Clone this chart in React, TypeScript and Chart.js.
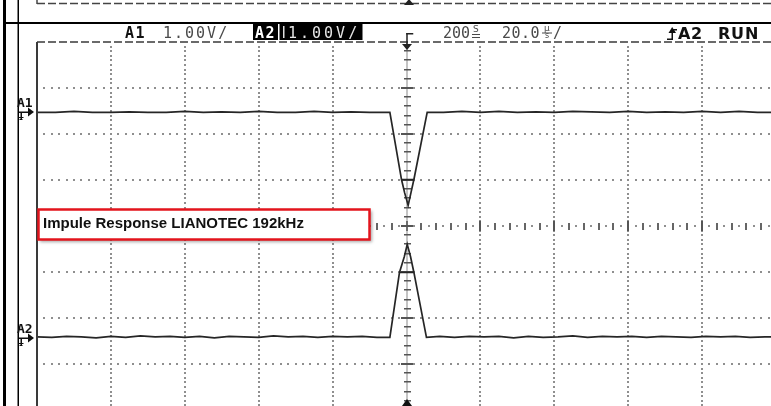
import { useEffect, useRef } from "react";
import { Chart, registerables } from "chart.js";

Chart.register(...registerables);

// ---- scope settings (20 µs/div, 1 V/div) ----
const X_MIN = -100; // µs
const X_MAX = 100; // µs
const X_DIVS = 10;
const Y_DIVS = 8;
const VOLTS_PER_DIV = 1;
const A1_GROUND_DIV = 2.47; // ground marker of A1, divisions above centre
const A2_GROUND_DIV = -2.42; // ground marker of A2

// ---- channel A1 (V vs µs) ----
const A1_TIME = [
  -100, -95, -90, -85, -80, -75, -70, -65, -60, -55, -50, -45, -40, -35, -30, -25, -20, -15, -10, -4.5,
  -1.35, -0.5, 0.45, 1.2, 2.0, -1.35, 2.0, 5.6,
  10, 15, 20, 25, 30, 35, 40, 45, 50, 55, 60, 65, 70, 75, 80, 85, 90, 95, 100,
];
const A1_VOLTS = [
  0, 0, 0.02, 0, 0, 0.01, 0, 0, 0.02, 0, 0.01, 0, 0.02, 0, 0, 0.02, 0, 0.01, 0, 0,
  -1.46, -1.75, -2.02, -1.75, -1.46, -1.46, -1.46, 0,
  0, 0.02, 0, 0.02, 0, 0.01, 0, 0.02, 0.01, 0, 0.02, 0, 0.01, 0, 0.02, 0, 0.02, 0, 0,
];

// ---- channel A2 (V vs µs) ----
const A2_TIME = [
  -100, -96, -92, -88, -84, -80, -76, -72, -68, -64, -60, -56, -52, -48, -44, -40, -36, -32, -28, -24, -20, -16, -12, -8, -4.5,
  -1.9, -0.6, 0.2, 1.1, 2.0, -1.9, 2.0, 5.4,
  9, 13, 17, 21, 25, 29, 33, 37, 41, 45, 49, 53, 57, 61, 65, 69, 73, 77, 81, 85, 89, 93, 97, 100,
];
const A2_VOLTS = [
  0.01, 0, 0.02, 0.01, -0.01, 0.02, 0, 0.03, 0.01, 0.02, 0, 0.02, -0.01, 0.02, 0.01, 0, 0.03, 0.01, 0.02, 0, 0.02, 0.01, 0.02, 0, 0,
  1.41, 1.75, 2.02, 1.75, 1.41, 1.41, 1.41, 0,
  0.02, 0, 0.02, 0.01, 0.02, -0.01, 0.02, 0, 0.01, 0.03, 0, 0.02, 0.01, 0.02, 0, 0.02, 0.01, 0, 0.02, 0.01, 0.02, 0, 0.01, 0.01,
];

// ---- texts ----
const CH1_NAME = "A1";
const CH2_NAME = "A2";
const CH1_SCALE = "1.00V/";
const CH2_SCALE = "1.00V/";
const SAMPLE_TEXT = "200";
const TIME_TEXT = "20.0";
const TRIG_SRC = "A2";
const RUN_TEXT = "RUN";
const NOTE_TEXT = "Impule Response LIANOTEC 192kHz";

const GRID_DOT = "#8f8f8f";
const TRACE = "#262626";

function text(ctx: any, s: string, x: number, y: number, font: string, color: string, spacing = 0) {
  ctx.font = font;
  ctx.fillStyle = color;
  try {
    ctx.letterSpacing = spacing + "px";
  } catch (e) {}
  ctx.fillText(s, x, y);
  try {
    ctx.letterSpacing = "0px";
  } catch (e) {}
}

function groundMarker(ctx: any, y: number, label: string) {
  text(ctx, label, 17, y - 5, "bold 13px 'DejaVu Sans Mono'", "#111");
  ctx.fillStyle = "#111";
  ctx.fillRect(19, y - 0.5, 10, 1.5);
  ctx.fillRect(20.5, y, 1.5, 8);
  ctx.fillRect(18.5, y + 5, 5, 1);
  ctx.fillRect(19.5, y + 7, 3, 1);
  ctx.beginPath();
  ctx.moveTo(28, y - 4.5);
  ctx.lineTo(28, y + 4.5);
  ctx.lineTo(34, y);
  ctx.closePath();
  ctx.fill();
}

const scopePlugin = {
  id: "scopeDecor",
  beforeDatasetsDraw(chart: any) {
    const ctx = chart.ctx;
    const xs = chart.scales.x;
    const yg = chart.scales.yGrid;
    const area = chart.chartArea;
    const xDiv = (X_MAX - X_MIN) / X_DIVS;
    const yMin = -Y_DIVS / 2;
    ctx.save();
    // dotted vertical grid
    ctx.fillStyle = GRID_DOT;
    for (let i = 1; i < X_DIVS; i++) {
      if (i === X_DIVS / 2) continue;
      const px = Math.round(xs.getPixelForValue(X_MIN + i * xDiv));
      for (let k = 1; k < Y_DIVS * 10; k++) {
        const py = Math.round(yg.getPixelForValue(yMin + k / 10));
        ctx.fillRect(px - 1, py - 1, 2, 2);
      }
    }
    // dotted horizontal grid
    for (let j = 1; j < Y_DIVS; j++) {
      if (j === Y_DIVS / 2) continue;
      const py = Math.round(yg.getPixelForValue(yMin + j));
      for (let k = 1; k < X_DIVS * 10; k++) {
        const px = Math.round(xs.getPixelForValue(X_MIN + (k * xDiv) / 10));
        ctx.fillRect(px - 1, py - 1, 2, 2);
      }
    }
    // centre horizontal axis with ticks
    const cy = Math.round(yg.getPixelForValue(0));
    for (let k = 1; k < X_DIVS * 10; k++) {
      const px = Math.round(xs.getPixelForValue(X_MIN + (k * xDiv) / 10));
      if (k % 10 === 0) {
        ctx.fillStyle = "#555";
        ctx.fillRect(px - 1, cy - 5, 2, 10);
      } else if (k % 2 === 0) {
        ctx.fillStyle = "#666";
        ctx.fillRect(px - 1, cy - 3, 2, 7);
      } else {
        ctx.fillStyle = GRID_DOT;
        ctx.fillRect(px - 1, cy - 1, 2, 2);
      }
    }
    // centre vertical axis with ticks
    const cx = Math.round(xs.getPixelForValue(0));
    ctx.fillStyle = "#8a8a8a";
    ctx.fillRect(cx - 0.5, area.top, 1, area.bottom - area.top);
    for (let k = 1; k < Y_DIVS * 5; k++) {
      const py = Math.round(yg.getPixelForValue(yMin + k / 5));
      ctx.fillStyle = "#555";
      if (k % 5 === 0) ctx.fillRect(cx - 6, py - 1, 12, 2);
      else ctx.fillRect(cx - 3, py - 1, 7, 1.5);
    }
    ctx.restore();
  },
  afterDraw(chart: any) {
    const ctx = chart.ctx;
    const xs = chart.scales.x;
    const area = chart.chartArea;
    const cx = Math.round(xs.getPixelForValue(0));
    ctx.save();

    // outer frame of the document
    ctx.fillStyle = "#000";
    ctx.fillRect(3, 0, 3, 420);
    ctx.fillRect(17.5, 0, 1.5, 420);
    ctx.fillRect(3, 22, 790, 2);

    // remains of the previous capture at the very top
    ctx.strokeStyle = "#444";
    ctx.lineWidth = 1.5;
    ctx.setLineDash([8, 3]);
    ctx.beginPath();
    ctx.moveTo(area.left, 3.5);
    ctx.lineTo(800, 3.5);
    ctx.stroke();
    ctx.setLineDash([]);
    ctx.beginPath();
    ctx.moveTo(area.left, 0);
    ctx.lineTo(area.left, 4);
    ctx.stroke();
    ctx.fillStyle = "#222";
    ctx.beginPath();
    ctx.moveTo(cx - 3, 5);
    ctx.lineTo(cx + 7, 5);
    ctx.lineTo(cx + 2, -1);
    ctx.closePath();
    ctx.fill();

    // plot border: dashed top, solid left
    ctx.strokeStyle = "#3a3a3a";
    ctx.lineWidth = 1.6;
    ctx.setLineDash([8, 3]);
    ctx.beginPath();
    ctx.moveTo(area.left, area.top);
    ctx.lineTo(area.right, area.top);
    ctx.stroke();
    ctx.setLineDash([]);
    ctx.lineWidth = 2;
    ctx.beginPath();
    ctx.moveTo(area.left, area.top);
    ctx.lineTo(area.left, area.bottom);
    ctx.stroke();

    // header
    const by = 38;
    text(ctx, CH1_NAME, 125, by, "bold 15px 'DejaVu Sans Mono'", "#111", 1.5);
    text(ctx, CH1_SCALE, 163, by, "15px 'DejaVu Sans Mono'", "#4a4a4a", 2);
    ctx.fillStyle = "#000";
    ctx.fillRect(253, 23, 25, 17);
    ctx.fillRect(279.5, 23, 83, 17);
    text(ctx, CH2_NAME, 255, by, "bold 15px 'DejaVu Sans Mono'", "#fff", 1.5);
    ctx.fillStyle = "#ddd";
    ctx.fillRect(283, 26, 1.5, 12);
    text(ctx, CH2_SCALE, 288, by, "15px 'DejaVu Sans Mono'", "#e6e6e6", 3);

    // trigger position glyph
    ctx.fillStyle = "#222";
    ctx.fillRect(cx - 0.75, 33, 1.5, 11);
    ctx.fillRect(cx - 0.75, 33, 7, 1.5);
    ctx.beginPath();
    ctx.moveTo(cx - 5, 44);
    ctx.lineTo(cx + 5, 44);
    ctx.lineTo(cx, 50);
    ctx.closePath();
    ctx.fill();

    // timebase
    text(ctx, SAMPLE_TEXT, 443, by, "15px 'DejaVu Sans Mono'", "#4a4a4a", 0);
    text(ctx, "S", 473, 32, "9px 'DejaVu Sans'", "#4a4a4a", 0);
    ctx.fillStyle = "#4a4a4a";
    ctx.fillRect(472, 34, 8, 1);
    ctx.fillRect(472, 37, 8, 1);
    text(ctx, TIME_TEXT, 502, by, "15px 'DejaVu Sans Mono'", "#4a4a4a", 0.5);
    text(ctx, "µ", 544, 31, "9px 'DejaVu Sans'", "#4a4a4a", 0);
    text(ctx, "s", 545, 38, "8px 'DejaVu Sans'", "#4a4a4a", 0);
    ctx.fillRect(542, 32.5, 10, 1);
    text(ctx, "/", 553, by, "15px 'DejaVu Sans Mono'", "#4a4a4a", 0);

    // trigger source + run state
    ctx.fillStyle = "#111";
    ctx.fillRect(671.5, 29, 1.5, 11);
    ctx.fillRect(667, 38.5, 5, 1.5);
    ctx.fillRect(672, 29, 5, 1.5);
    ctx.beginPath();
    ctx.moveTo(668.5, 33);
    ctx.lineTo(676, 33);
    ctx.lineTo(672.2, 27);
    ctx.closePath();
    ctx.fill();
    text(ctx, TRIG_SRC, 678, by + 1, "bold 16px 'DejaVu Sans'", "#111", 0.5);
    text(ctx, RUN_TEXT, 718, by + 1, "bold 16px 'DejaVu Sans'", "#111", 0.8);

    // channel ground markers
    groundMarker(ctx, Math.round(chart.scales.yA1.getPixelForValue(0)), CH1_NAME);
    groundMarker(ctx, Math.round(chart.scales.yA2.getPixelForValue(0)) + 1, CH2_NAME);

    // bottom trigger marker
    ctx.fillStyle = "#111";
    ctx.beginPath();
    ctx.moveTo(cx - 5, 406);
    ctx.lineTo(cx + 5, 406);
    ctx.lineTo(cx, 399);
    ctx.closePath();
    ctx.fill();

    // annotation box
    ctx.save();
    ctx.shadowColor = "rgba(0,0,0,0.35)";
    ctx.shadowBlur = 3;
    ctx.shadowOffsetX = 2;
    ctx.shadowOffsetY = 2;
    ctx.fillStyle = "#fff";
    ctx.fillRect(38, 209, 332, 31);
    ctx.restore();
    ctx.strokeStyle = "#e3141d";
    ctx.lineWidth = 2.5;
    ctx.strokeRect(38.5, 209.5, 331, 30);
    text(ctx, NOTE_TEXT, 43, 228, "bold 15px 'Liberation Sans'", "#111", 0);

    ctx.restore();
  },
};

export default function App() {
  const ref = useRef<HTMLCanvasElement>(null);
  useEffect(() => {
    if (!ref.current) return;
    const yRange = (ground: number) => ({
      min: (-Y_DIVS / 2 - ground) * VOLTS_PER_DIV,
      max: (Y_DIVS / 2 - ground) * VOLTS_PER_DIV,
    });
    const chart = new Chart(ref.current, {
      type: "line",
      data: {
        datasets: [
          {
            label: CH1_NAME,
            data: A1_TIME.map((t, i) => ({ x: t, y: A1_VOLTS[i] })),
            yAxisID: "yA1",
            borderColor: TRACE,
            borderWidth: 1.7,
            pointRadius: 0,
            tension: 0,
          },
          {
            label: CH2_NAME,
            data: A2_TIME.map((t, i) => ({ x: t, y: A2_VOLTS[i] })),
            yAxisID: "yA2",
            borderColor: TRACE,
            borderWidth: 1.7,
            pointRadius: 0,
            tension: 0,
          },
        ],
      },
      options: {
        animation: false,
        responsive: false,
        devicePixelRatio: 1,
        layout: { padding: { left: 37, top: 42, right: 24, bottom: 10 } },
        plugins: { legend: { display: false }, tooltip: { enabled: false } },
        scales: {
          x: { type: "linear", min: X_MIN, max: X_MAX, display: false },
          yA1: { type: "linear", ...yRange(A1_GROUND_DIV), display: false },
          yA2: { type: "linear", ...yRange(A2_GROUND_DIV), display: false },
          yGrid: { type: "linear", min: -Y_DIVS / 2, max: Y_DIVS / 2, display: false },
        },
      },
      plugins: [scopePlugin],
    } as any);
    return () => chart.destroy();
  }, []);
  return (
    <div
      style={{
        position: "absolute",
        left: 0,
        top: 0,
        width: 771,
        height: 406,
        overflow: "hidden",
        background: "#fff",
      }}
    >
      <canvas
        ref={ref}
        width={800}
        height={420}
        style={{ position: "absolute", left: 0, top: 0, width: 800, height: 420 }}
      />
    </div>
  );
}
